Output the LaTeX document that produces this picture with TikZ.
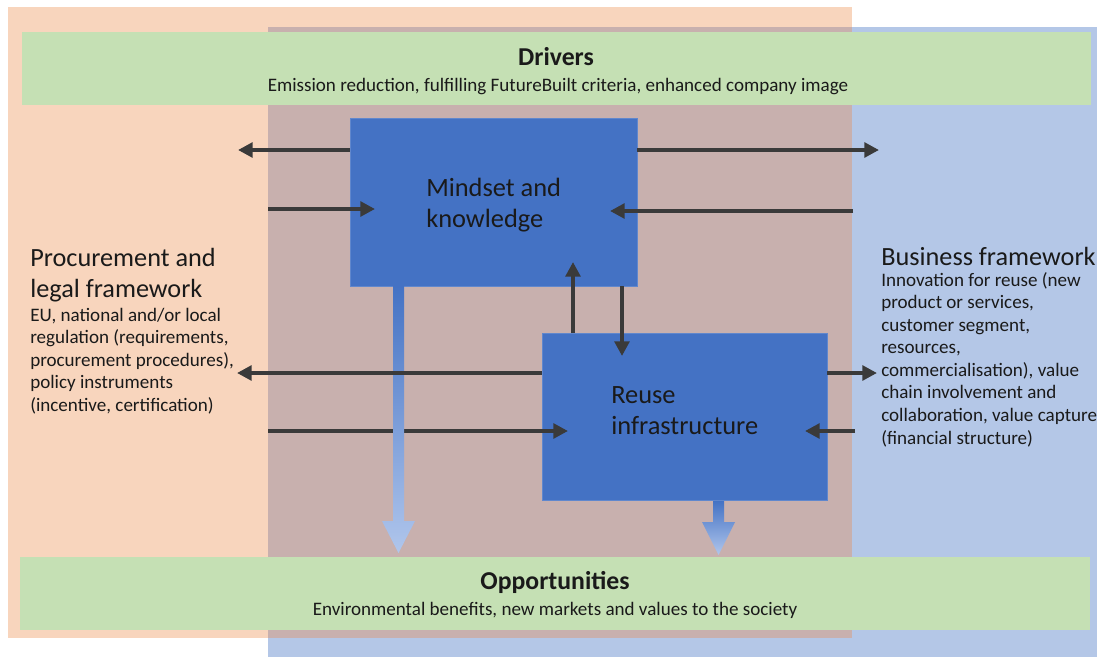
\documentclass[tikz,border=0pt]{standalone}
\usepackage{fontspec}
\setmainfont{Carlito}
\usetikzlibrary{arrows.meta}
\definecolor{orangebg}{HTML}{F8D5BD}
\definecolor{bluebg}{HTML}{B4C7E7}
\definecolor{overlapbg}{HTML}{C8B0AE}
\definecolor{greenbar}{HTML}{C5E0B4}
\definecolor{boxblue}{HTML}{4472C4}
\definecolor{arrowgray}{HTML}{3A3A3A}
\definecolor{lightarrow}{HTML}{B0C6EC}
\definecolor{txt}{HTML}{1A1A1A}
\tikzset{
  blockbox/.style={rectangle, fill=boxblue, draw=boxblue!85!white, line width=0.5pt, inner sep=0pt},
  conn/.style={draw=arrowgray, line width=3.4pt, -{Triangle[length=11pt,width=11pt]}},
  boxtxt/.style={inner sep=0pt, align=left, text=txt, anchor=base west, font=\fontsize{19.8}{23.25}\selectfont},
  titletxt/.style={inner sep=0pt, align=left, text=txt, anchor=base west, font=\fontsize{19.7}{23.25}\selectfont},
  bodytxt/.style={inner sep=0pt, align=left, text=txt, anchor=base west, font=\fontsize{14.3}{16.9}\selectfont},
  headtxt/.style={inner sep=0pt, text=txt, anchor=base, font=\fontsize{19.3}{22}\selectfont\bfseries},
  subtxt/.style={inner sep=0pt, text=txt, anchor=base, font=\fontsize{14.3}{16.9}\selectfont},
  gradarrow/.style={top color=boxblue, bottom color=lightarrow}
}
\begin{document}
\begin{tikzpicture}[x=0.75pt,y=-0.75pt]
\useasboundingbox (0,0) rectangle (1097,657);
% background regions
\fill[orangebg] (8,7) rectangle (852,638);
\fill[bluebg] (268,27) rectangle (1097,657);
\fill[overlapbg] (268,27) rectangle (852,638);
% green bars
\fill[greenbar] (22,32) rectangle (1091,105);
\fill[greenbar] (20,557) rectangle (1090,630);
\node[headtxt] (drv) at (556,65) {Drivers};
\node[subtxt] (drvsub) at (558,91) {Emission reduction, fulfilling FutureBuilt criteria, enhanced company image};
\node[headtxt] (opp) at (555,589) {Opportunities};
\node[subtxt] (oppsub) at (555,615) {Environmental benefits, new markets and values to the society};
% blocks
\node[blockbox, minimum width=215.25pt, minimum height=126pt] (mind) at (493.5,202) {};
\node[blockbox, minimum width=213.75pt, minimum height=125.25pt] (reuse) at (684.5,417) {};
\node[boxtxt] (mindtxt) at (426,227) {Mindset and\\knowledge};
\node[boxtxt] (reusetxt) at (611,434) {Reuse\\infrastructure};
% side texts (base anchor = baseline of last line)
\node[titletxt] (proctitle) at (30,297) {Procurement and\\legal framework};
\node[bodytxt] (procbody) at (30,411.5) {EU, national and/or local\\regulation (requirements,\\procurement procedures),\\policy instruments\\(incentive, certification)};
\node[titletxt] (bustitle) at (881,265) {Business framework};
\node[bodytxt] (busbody) at (881,444) {Innovation for reuse (new\\product or services,\\customer segment,\\resources,\\commercialisation), value\\chain involvement and\\collaboration, value capture\\(financial structure)};
% free connector ends
\coordinate (a1e) at (238,150);
\coordinate (a2s) at (268,209);
\coordinate (a3e) at (879,150);
\coordinate (a4s) at (853,211);
\coordinate (a7e) at (237,373);
\coordinate (a8s) at (268,431);
\coordinate (a9e) at (877,373);
\coordinate (a10s) at (855,431);
% connectors
\draw[conn] (mind.west |- a1e) -- (a1e);
\draw[conn] (a2s) -- (375,209);
\draw[conn] (mind.east |- a3e) -- (a3e);
\draw[conn] (a4s) -- (610,211);
\draw[conn] (reuse.north -| 573,0) -- (573,262);
\draw[conn] (mind.south -| 622,0) -- (622,356);
\draw[conn] (a8s) -- (568,431);
% gradient arrows
\shade[gradarrow] (393,286) -- (404,286) -- (404,521) -- (415,521) -- (398.5,553) -- (382,521) -- (393,521) -- cycle;
\shade[gradarrow] (713,501) -- (724,501) -- (724,522) -- (735,522) -- (718.5,555) -- (702,522) -- (713,522) -- cycle;
\draw[conn] (reuse.west |- a7e) -- (a7e);
\draw[conn] (reuse.east |- a9e) -- (a9e);
\draw[conn] (a10s) -- (805,431);
\end{tikzpicture}
\end{document}
